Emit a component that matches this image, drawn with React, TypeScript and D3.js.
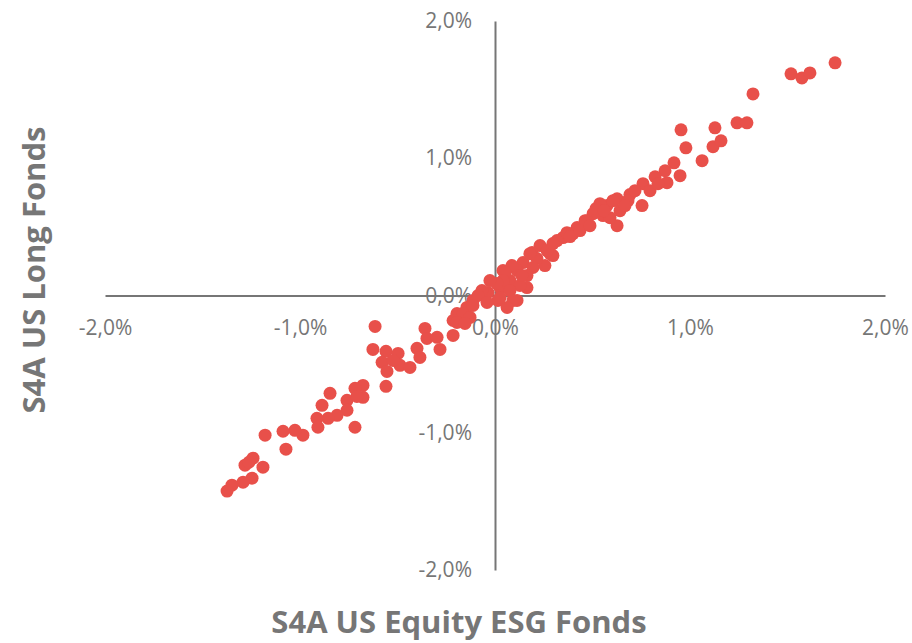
import React, { useEffect, useRef } from "react";
import * as d3 from "d3";

// Daily returns in % (x: S4A US Equity ESG Fonds, y: S4A US Long Fonds)
const esgReturns: number[] = [
  1.744, 1.518, 1.574, 1.615, 1.323, 1.241, 1.292, 0.954, 1.128, 0.979,
  1.118, 1.159, 1.062, 0.918, 0.949, 0.872, 0.821, 0.759, 0.882, 0.795,
  0.692, 0.626, 0.754, 0.574, 0.641, 0.554, 0.605, 0.626, 0.538, 0.503,
  0.472, 0.421, 0.4, 0.349, 0.318, 0.231, 0.19, 0.297, 0.256, 0.144,
  0.113, 0.041, 0.077, 0.113, 0.026, -0.036, -0.067, 0.015, -0.113, -0.144,
  -0.195, 0.59, 0.518, 0.462, 0.369, 0.385, 0.282, 0.215, 0.179, 0.195,
  0.267, 0.297, 0.164, 0.087, 0.051, 0.041, 0.01, 0.164, 0.092, 0.062,
  -0.087, -0.041, -0.113, -0.164, -0.215, 0.026, -0.128, 0.682, 0.718, 0.667,
  0.128, 0.077, 0.436, 0.487, 0.559, 0.836, -0.026, 0.138,
  -0.615, -0.626, -0.559, -0.579, -0.554, -0.497, -0.487, -0.436, -0.559, -0.4,
  -0.385, -0.359, -0.349, -0.297, -0.282, -0.215, -0.195, -0.154, -0.523, -0.677,
  -0.718, -0.677, -0.759, -0.846, -0.887, -0.759, -0.81, -0.856, -0.913, -0.908,
  -0.718, -0.985, -1.026, -1.087, -1.072, -1.179, -1.241, -1.282, -1.19, -1.246,
  -1.292, -1.349, -1.374, -0.708, -1.262,
];
const longReturns: number[] = [
  1.695, 1.615, 1.585, 1.622, 1.469, 1.258, 1.258, 1.207, 1.222, 1.076,
  1.084, 1.127, 0.982, 0.967, 0.873, 0.909, 0.865, 0.815, 0.822, 0.764,
  0.735, 0.705, 0.655, 0.655, 0.618, 0.582, 0.691, 0.509, 0.669, 0.596,
  0.545, 0.495, 0.451, 0.422, 0.4, 0.364, 0.313, 0.291, 0.218, 0.24,
  0.182, 0.182, 0.109, -0.036, 0.058, 0.022, 0.036, -0.036, -0.036, -0.087,
  -0.131, 0.567, 0.633, 0.545, 0.458, 0.429, 0.305, 0.269, 0.305, 0.204,
  0.327, 0.378, 0.145, 0.218, 0.167, 0.109, 0.087, 0.058, -0.036, -0.087,
  0, -0.051, -0.073, -0.131, -0.182, -0.015, -0.16, 0.691, 0.764, 0.655,
  0.073, 0.036, 0.473, 0.509, 0.618, 0.815, 0.109, 0.145,
  -0.225, -0.393, -0.407, -0.487, -0.553, -0.422, -0.509, -0.524, -0.662, -0.385,
  -0.451, -0.24, -0.313, -0.305, -0.393, -0.291, -0.196, -0.204, -0.473, -0.655,
  -0.676, -0.742, -0.764, -0.713, -0.8, -0.836, -0.873, -0.895, -0.895, -0.96,
  -0.96, -1.018, -0.982, -0.989, -1.12, -1.018, -1.185, -1.236, -1.251, -1.331,
  -1.36, -1.382, -1.425, -0.735, -1.215,
];
const tickValues: number[] = [-2, -1, 0, 1, 2];
const xTitle = "S4A US Equity ESG Fonds";
const yTitle = "S4A US Long Fonds";

const W = 912;
const H = 643;
const FONT = "'Open Sans', 'DejaVu Sans', sans-serif";
const AXIS_COLOR = "#767676";
const DOT_COLOR = "#E8504A";

export default function App() {
  const ref = useRef<SVGSVGElement | null>(null);

  useEffect(() => {
    const svg = d3.select(ref.current);
    svg.selectAll("*").remove();

    const x = d3.scaleLinear().domain([-2, 2]).range([105, 885]);
    const y = d3.scaleLinear().domain([-2, 2]).range([570, 21]);
    const fmt = (v: d3.NumberValue) =>
      (+v).toFixed(1).replace(".", ",") + "%";

    const xAxis = d3
      .axisBottom(x)
      .tickValues(tickValues)
      .tickSize(0)
      .tickPadding(25)
      .tickFormat(fmt);
    const yAxis = d3
      .axisLeft(y)
      .tickValues(tickValues)
      .tickSize(0)
      .tickPadding(23)
      .tickFormat(fmt);

    const gx = svg.append("g").attr("transform", `translate(0,${y(0)})`).call(xAxis);
    const gy = svg.append("g").attr("transform", `translate(${x(0)},0)`).call(yAxis);

    [gx, gy].forEach((g) => {
      g.select(".domain").attr("stroke", AXIS_COLOR).attr("stroke-width", 2);
      g.selectAll("text")
        .attr("fill", AXIS_COLOR)
        .style("font-family", FONT)
        .style("font-size", "21px");
    });

    const data = esgReturns.map((v, i) => [v, longReturns[i]] as [number, number]);
    svg
      .append("g")
      .selectAll("circle")
      .data(data)
      .join("circle")
      .attr("cx", (d) => x(d[0]))
      .attr("cy", (d) => y(d[1]))
      .attr("r", 6.5)
      .attr("fill", DOT_COLOR);

    svg
      .append("text")
      .attr("x", 459)
      .attr("y", 633)
      .attr("text-anchor", "middle")
      .attr("fill", AXIS_COLOR)
      .style("font-family", FONT)
      .style("font-weight", 700)
      .style("font-size", "31px")
      .text(xTitle);

    svg
      .append("text")
      .attr("transform", `translate(45,270) rotate(-90)`)
      .attr("text-anchor", "middle")
      .attr("fill", AXIS_COLOR)
      .style("font-family", FONT)
      .style("font-weight", 700)
      .style("font-size", "31px")
      .text(yTitle);
  }, []);

  return (
    <svg
      ref={ref}
      width={W}
      height={H}
      style={{ position: "absolute", left: 0, top: 0, background: "#fff" }}
    />
  );
}
